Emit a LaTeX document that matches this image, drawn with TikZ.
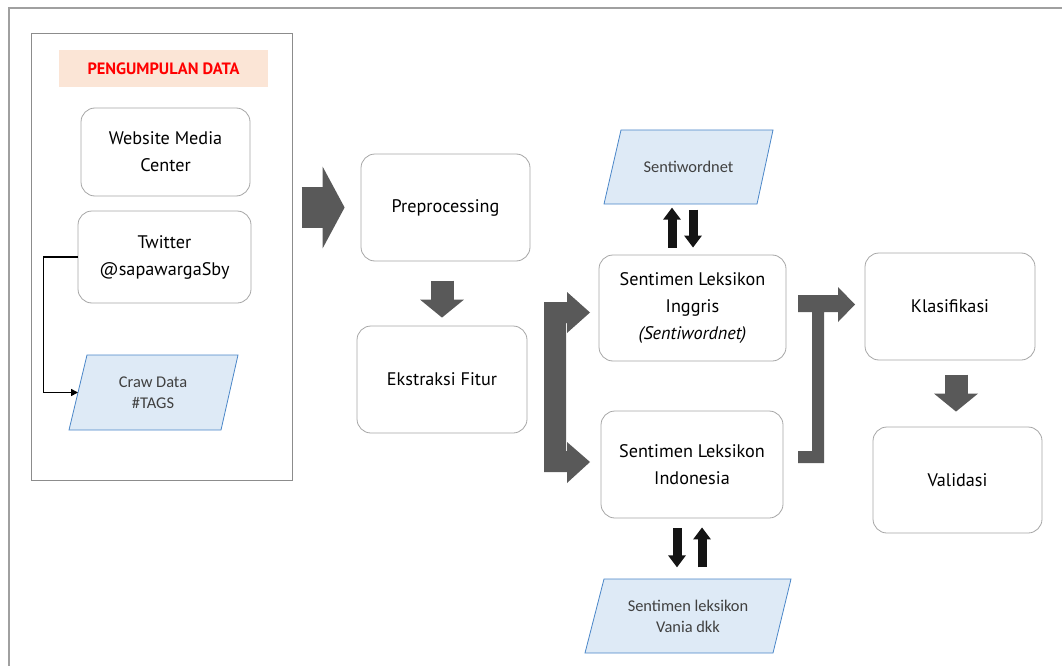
\documentclass[tikz,border=0pt]{standalone}
\usepackage{fontspec}
\setmainfont{PT Sans}
\newfontfamily\notefont{Carlito}
\usetikzlibrary{arrows.meta,calc}

\definecolor{framegray}{HTML}{A0A0A0}
\definecolor{panelgray}{HTML}{8C8C8C}
\definecolor{boxgray}{HTML}{A6A6A6}
\definecolor{blockgray}{HTML}{595959}
\definecolor{peach}{HTML}{FBE5D6}
\definecolor{datafill}{HTML}{DEEAF6}
\definecolor{dataedge}{HTML}{4A86C8}
\definecolor{notetext}{HTML}{404040}

\tikzset{
  stagebox/.style={draw=boxgray, line width=0.8pt, rounded corners=14pt, fill=white,
    align=center, inner sep=0pt, font=\fontsize{18.2}{27}\selectfont},
  datashape/.style={fill=datafill, draw=dataedge, line width=0.8pt},
  datalabel/.style={align=center, inner sep=0pt, text=notetext,
    font=\notefont\fontsize{16.4}{21}\selectfont},
  blockright/.style={draw=blockgray, line width=41pt,
    -{Triangle[width=81pt,length=22pt]}},
  blockdown/.style={draw=blockgray, line width=23pt,
    -{Triangle[width=43pt,length=18pt]}},
  thinarrow/.style={draw=black!92, line width=9pt,
    -{Triangle[width=17pt,length=12pt]}},
  link/.style={draw=black, line width=1.6pt, -{Triangle[width=7pt,length=7pt]}},
}

\begin{document}
\begin{tikzpicture}[x=1pt,y=-1pt]
\useasboundingbox (0,0) rectangle (1062,666);

% outer frame (runs off the right and bottom edges)
\draw[framegray, line width=2pt] (9,666) -- (9,8) -- (1062,8);

% data collection panel
\node[draw=panelgray, line width=0.9pt, minimum width=261pt, minimum height=447pt,
      inner sep=0pt] (panel) at (161.5,256.5) {};
\node[fill=peach, minimum width=209pt, minimum height=37pt, inner sep=0pt,
      text=red, font=\fontsize{16.4}{18}\selectfont\bfseries] (title) at (163.5,69)
      {PENGUMPULAN DATA};
\node[stagebox, minimum width=169pt, minimum height=88pt] (web) at (165.5,152)
      {Website Media\\Center};
\node[stagebox, minimum width=173pt, minimum height=92pt] (tw) at (164.5,257)
      {Twitter\\@sapawargaSby};

% crawled data
\filldraw[datashape] (87,355) -- (238,355) -- (221,430) -- (69,430) -- cycle;
\node[datalabel] (craw) at (153,392.5) {Craw Data\\\#TAGS};
\coordinate (crawin) at (78,392.5);
\draw[link] (tw.west) -- ++(-34,0) |- (crawin);

% processing stages
\node[stagebox, minimum width=169pt, minimum height=107pt] (pre) at (445.5,207.5)
      {Preprocessing};
\node[stagebox, minimum width=170pt, minimum height=107pt] (eks) at (442,379.5)
      {Ekstraksi Fitur};
\node[stagebox, minimum width=187pt, minimum height=106pt] (sli) at (692.5,308)
      {Sentimen Leksikon\\Inggris\\\textit{(Sentiwordnet)}};
\node[stagebox, minimum width=182pt, minimum height=107pt] (sid) at (692,464.5)
      {Sentimen Leksikon\\Indonesia};
\node[stagebox, minimum width=170pt, minimum height=107pt] (kla) at (950,306.5)
      {Klasifikasi};
\node[stagebox, minimum width=169pt, minimum height=106pt] (val) at (957.5,480)
      {Validasi};

% lexicon sources
\filldraw[datashape] (621,130) -- (773,130) -- (757,204) -- (604,204) -- cycle;
\node[datalabel] (swn) at (688.5,167) {Sentiwordnet};
\filldraw[datashape] (604,579) -- (791,579) -- (773,653) -- (585,653) -- cycle;
\node[datalabel] (vania) at (688,616) {Sentimen leksikon\\Vania dkk};

% block arrows between stages
\draw[blockright] ([xshift=-59pt]pre.west) -- ([xshift=-16pt]pre.west);
\draw[blockdown] ($(eks.north)+(0,-45)$) -- ($(eks.north)+(0,-8)$);
\draw[blockdown] ($(val.north)+(-1.5,-52)$) -- ($(val.north)+(-1.5,-15)$);

% split from feature extraction to both lexicon stages
\fill[blockgray] (544,302) -- (567,302) -- (567,292) -- (590,312.5) -- (567,333)
  -- (567,323) -- (566,323) -- (566,451) -- (567,451) -- (567,442) -- (590,462)
  -- (567,483) -- (567,472) -- (544,472) -- cycle;

% merge of both lexicon stages into classification
\fill[blockgray] (798,295) -- (838,295) -- (838,287) -- (855,304.5) -- (838,322)
  -- (838,312) -- (824,312) -- (824,463) -- (798,463) -- (798,451) -- (812,451)
  -- (812,312) -- (798,312) -- cycle;

% exchange with the lexicon sources
\draw[thinarrow] ([xshift=-20.5pt,yshift=7pt]sli.north) -- ++(0,-40);
\draw[thinarrow] ([xshift=0.5pt,yshift=45pt]sli.north) -- ([xshift=0.5pt,yshift=7pt]sli.north);
\draw[thinarrow] ([xshift=-15pt,yshift=-10pt]sid.south) -- ++(0,39);
\draw[thinarrow] ([xshift=10pt,yshift=-49pt]sid.south) -- ([xshift=10pt,yshift=-9pt]sid.south);
\end{tikzpicture}
\end{document}
